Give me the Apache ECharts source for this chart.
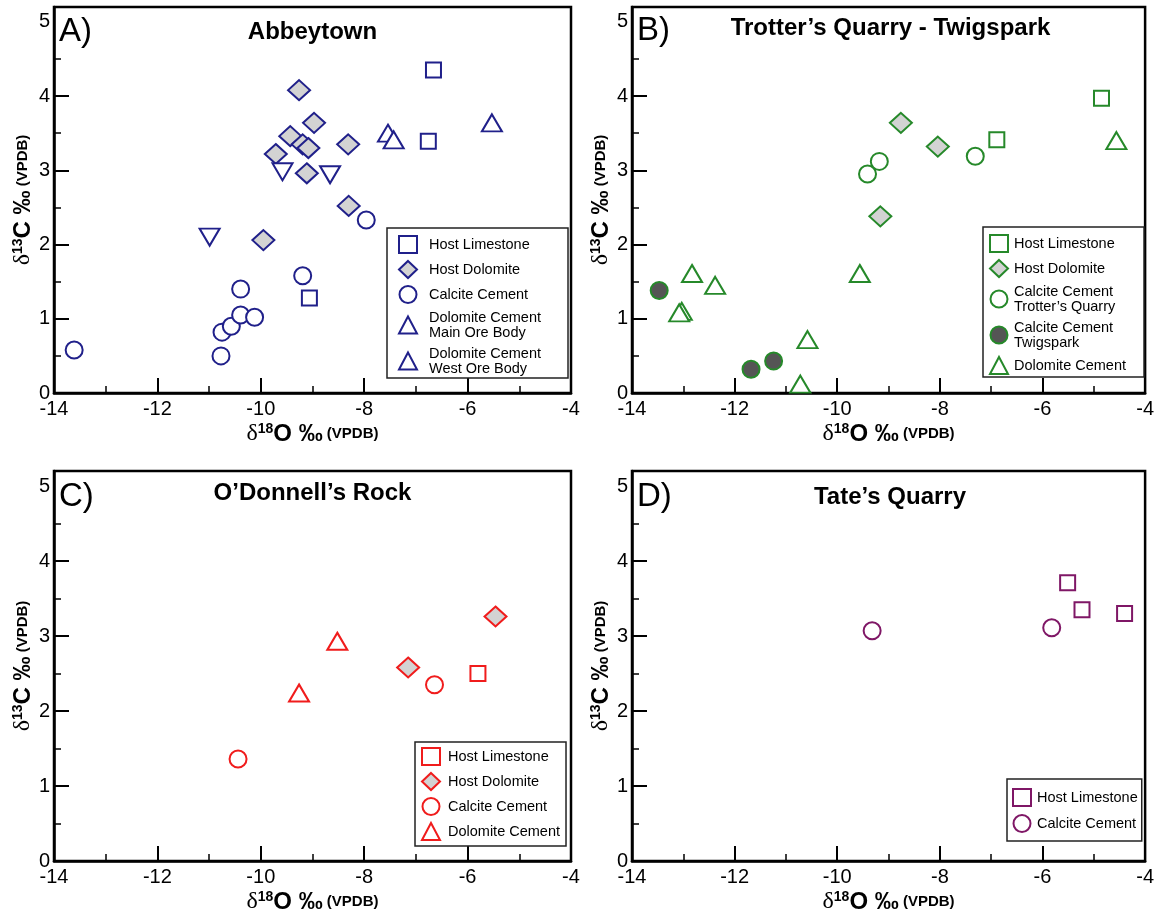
<!DOCTYPE html>
<html>
<head>
<meta charset="utf-8">
<title>d13C vs d18O</title>
<script src="https://cdn.jsdelivr.net/npm/echarts@6/dist/echarts.min.js"></script>
<style>html,body{margin:0;padding:0;background:#fff}</style>
</head>
<body>
<div id="main" style="width:1157px;height:921px"></div>
<script>
// ---- data: [d18O, d13C] ----
var abbeyLimestone = [[-6.66, 4.35], [-6.76, 3.39], [-9.06, 1.28]];
var abbeyHostDol = [[-9.26, 4.08], [-8.97, 3.64], [-9.43, 3.46], [-9.19, 3.35], [-9.08, 3.30],
                    [-9.71, 3.22], [-8.31, 3.35], [-9.11, 2.96], [-8.30, 2.52], [-9.95, 2.06]];
var abbeyCalcite = [[-13.61, 0.58], [-10.77, 0.50], [-10.75, 0.82], [-10.57, 0.90], [-10.39, 1.40],
                    [-10.39, 1.05], [-10.12, 1.02], [-9.19, 1.58], [-7.96, 2.33]];
var abbeyMainOre = [[-7.54, 3.50], [-7.43, 3.41], [-5.53, 3.64]];
var abbeyWestOre = [[-10.99, 2.10], [-9.58, 2.98], [-8.66, 2.94]];

var trotLimestone = [[-4.85, 3.97], [-6.89, 3.41]];
var trotHostDol = [[-8.76, 3.64], [-8.04, 3.32], [-9.16, 2.38]];
var trotCalcite = [[-9.41, 2.95], [-9.18, 3.12], [-7.31, 3.19]];
var twigCalcite = [[-13.47, 1.38], [-11.68, 0.32], [-11.24, 0.43]];
var trotDolCement = [[-12.83, 1.61], [-12.38, 1.45], [-13.03, 1.10], [-13.08, 1.08],
                     [-10.58, 0.72], [-10.72, 0.12], [-9.56, 1.61], [-4.56, 3.40]];

var odLimestone = [[-5.80, 2.50]];
var odHostDol = [[-5.46, 3.26], [-7.15, 2.58]];
var odCalcite = [[-6.64, 2.35], [-10.44, 1.36]];
var odDolCement = [[-8.52, 2.93], [-9.26, 2.24]];

var tateLimestone = [[-5.51, 3.71], [-5.23, 3.35], [-4.40, 3.30]];
var tateCalcite = [[-9.32, 3.07], [-5.82, 3.11]];

// ticks and labels
var xLabels = [-14, -12, -10, -8, -6, -4];
var xMajorTicks = [-12, -10, -8, -6];
var xMinorTicks = [-13, -11, -9, -7, -5];
var yLabels = [0, 1, 2, 3, 4, 5];
var yMajorTicks = [1, 2, 3, 4];
var yMinorTicks = [0.5, 1.5, 2.5, 3.5, 4.5];

var panelLetters = ['A)', 'B)', 'C)', 'D)'];
var panelTitles = ['Abbeytown', 'Trotter\u2019s Quarry - Twigspark', 'O\u2019Donnell\u2019s Rock', 'Tate\u2019s Quarry'];

var NAVY = '#20208a', GREEN = '#26892a', RED = '#f01c1c', PURPLE = '#7f1766';
var GREYFILL = '#d3d3d3', DARKFILL = '#555555';
var FONT = 'Liberation Sans, Arial, sans-serif';

var grids = [
    {left: 54, top: 7, width: 517, height: 386},
    {left: 632, top: 7, width: 517, height: 386},
    {left: 54, top: 471, width: 517, height: 390},
    {left: 632, top: 471, width: 516, height: 390}
];

var nameRich = {
    g: {fontSize: 24, fontFamily: 'Liberation Serif, serif', color: '#000'},
    s: {fontSize: 14, fontWeight: 'bold', fontFamily: FONT, verticalAlign: 'top', color: '#000'},
    b: {fontSize: 24, fontWeight: 'bold', fontFamily: FONT, color: '#000'},
    v: {fontSize: 15, fontWeight: 'bold', fontFamily: FONT, color: '#000'}
};

var xAxes = [], yAxes = [], titles = [];
grids.forEach(function (g, i) {
    g.show = true;
    g.borderColor = '#000';
    g.borderWidth = 2.5;
    g.containLabel = false;
    // major x axis
    xAxes.push({
        type: 'value', gridIndex: i, position: 'bottom', min: -14, max: -4, interval: 2,
        axisLine: {show: true, lineStyle: {color: '#000', width: 2.5}},
        axisTick: {inside: true, length: 15, lineStyle: {color: '#000', width: 2}, customValues: xMajorTicks},
        axisLabel: {customValues: xLabels, color: '#000', fontSize: 20, margin: 6, fontFamily: FONT},
        splitLine: {show: false},
        name: '{g|\u03b4}{s|18}{b|O \u2030}{v| (VPDB)}',
        nameLocation: 'middle', nameGap: 29,
        nameTextStyle: {rich: nameRich}
    });
    // minor x ticks
    xAxes.push({
        type: 'value', gridIndex: i, position: 'bottom', min: -14, max: -4, interval: 1,
        axisLine: {show: false},
        axisTick: {inside: true, length: 7, lineStyle: {color: '#000', width: 1.5}, customValues: xMinorTicks},
        axisLabel: {show: false},
        splitLine: {show: false}
    });
    yAxes.push({
        type: 'value', gridIndex: i, position: 'left', min: 0, max: 5.2, interval: 1,
        axisLine: {show: true, lineStyle: {color: '#000', width: 2.5}},
        axisTick: {inside: true, length: 15, lineStyle: {color: '#000', width: 2}, customValues: yMajorTicks},
        axisLabel: {
            customValues: yLabels, color: '#000', fontSize: 20, margin: 4, fontFamily: FONT,
            formatter: function (v) { return Math.abs(v - Math.round(v)) < 1e-6 ? String(Math.round(v)) : ''; }
        },
        splitLine: {show: false},
        name: '{g|\u03b4}{s|13}{b|C \u2030}{v| (VPDB)}',
        nameLocation: 'middle', nameGap: 17,
        nameTextStyle: {rich: nameRich}
    });
    // minor y ticks
    yAxes.push({
        type: 'value', gridIndex: i, position: 'left', min: 0, max: 5.2, interval: 0.5,
        axisLine: {show: false},
        axisTick: {inside: true, length: 7, lineStyle: {color: '#000', width: 1.5}, customValues: yMinorTicks},
        axisLabel: {show: false},
        splitLine: {show: false}
    });
});

// panel letters and titles
var letterTops = [15, 14, 480, 480];
var titleTops = [20, 16, 481, 485];
grids.forEach(function (g, i) {
    titles.push({
        text: panelLetters[i], left: g.left + 5, top: letterTops[i], padding: 0,
        textStyle: {fontSize: 33, fontWeight: 'normal', color: '#000', fontFamily: FONT}
    });
    titles.push({
        text: panelTitles[i], left: g.left + g.width / 2, top: titleTops[i], padding: 0, textAlign: 'center',
        textStyle: {fontSize: 24, fontWeight: 'bold', color: '#000', fontFamily: FONT}
    });
});

var labels = {};
var series = [];
function addSeries(panel, key, label, data, symbol, color, fill, size, rotate) {
    var name = panel + ':' + key;
    labels[name] = label;
    series.push({
        name: name, type: 'scatter', xAxisIndex: panel * 2, yAxisIndex: panel * 2,
        data: data, symbol: symbol, symbolSize: size, symbolRotate: rotate || 0,
        itemStyle: {color: fill, borderColor: color, borderWidth: 2, opacity: 1},
        emphasis: {disabled: true}
    });
    return name;
}

var legA = [
    addSeries(0, 'lime', 'Host Limestone', abbeyLimestone, 'rect', NAVY, '#fff', 15),
    addSeries(0, 'dol', 'Host Dolomite', abbeyHostDol, 'diamond', NAVY, GREYFILL, [22, 20]),
    addSeries(0, 'calc', 'Calcite Cement', abbeyCalcite, 'circle', NAVY, '#fff', 17),
    addSeries(0, 'main', 'Dolomite Cement\nMain Ore Body', abbeyMainOre, 'triangle', NAVY, '#fff', [20, 17]),
    addSeries(0, 'west', 'Dolomite Cement\nWest Ore Body', abbeyWestOre, 'triangle', NAVY, '#fff', [20, 17], 180)
];
var legB = [
    addSeries(1, 'lime', 'Host Limestone', trotLimestone, 'rect', GREEN, '#fff', 15),
    addSeries(1, 'dol', 'Host Dolomite', trotHostDol, 'diamond', GREEN, GREYFILL, [22, 20]),
    addSeries(1, 'calc', 'Calcite Cement\nTrotter\u2019s Quarry', trotCalcite, 'circle', GREEN, '#fff', 17),
    addSeries(1, 'twig', 'Calcite Cement\nTwigspark', twigCalcite, 'circle', GREEN, DARKFILL, 17),
    addSeries(1, 'dc', 'Dolomite Cement', trotDolCement, 'triangle', GREEN, '#fff', [20, 17])
];
var legC = [
    addSeries(2, 'lime', 'Host Limestone', odLimestone, 'rect', RED, '#fff', 15),
    addSeries(2, 'dol', 'Host Dolomite', odHostDol, 'diamond', RED, GREYFILL, [22, 20]),
    addSeries(2, 'calc', 'Calcite Cement', odCalcite, 'circle', RED, '#fff', 17),
    addSeries(2, 'dc', 'Dolomite Cement', odDolCement, 'triangle', RED, '#fff', [20, 17])
];
var legD = [
    addSeries(3, 'lime', 'Host Limestone', tateLimestone, 'rect', PURPLE, '#fff', 15),
    addSeries(3, 'calc', 'Calcite Cement', tateCalcite, 'circle', PURPLE, '#fff', 17)
];

function legend(data, left, top, padding, textPad, gap) {
    return {
        data: data, orient: 'vertical', left: left, top: top, padding: padding,
        itemWidth: 18, itemHeight: 17, itemGap: gap,
        backgroundColor: '#fff', borderColor: '#222', borderWidth: 1.5,
        selectedMode: false,
        formatter: function (n) { return labels[n]; },
        textStyle: {fontSize: 14.5, lineHeight: 15, color: '#000', fontFamily: FONT, padding: [0, 0, 0, textPad]}
    };
}

var chart = echarts.init(document.getElementById('main'), null, {renderer: 'canvas'});
chart.setOption({
    animation: false,
    backgroundColor: '#fff',
    title: titles,
    grid: grids,
    xAxis: xAxes,
    yAxis: yAxes,
    legend: [
        legend(legA, 387, 228, [7, 27, 2, 11], 7, 6),
        legend(legB, 983, 227, [7, 18, 2, 6], 1, 6),
        legend(legC, 415, 742, [5, 6, 5, 6], 3, 6),
        legend(legD, 1007, 779, [9, 4, 8, 5], 1, 7)
    ],
    series: series
});
</script>
</body>
</html>
